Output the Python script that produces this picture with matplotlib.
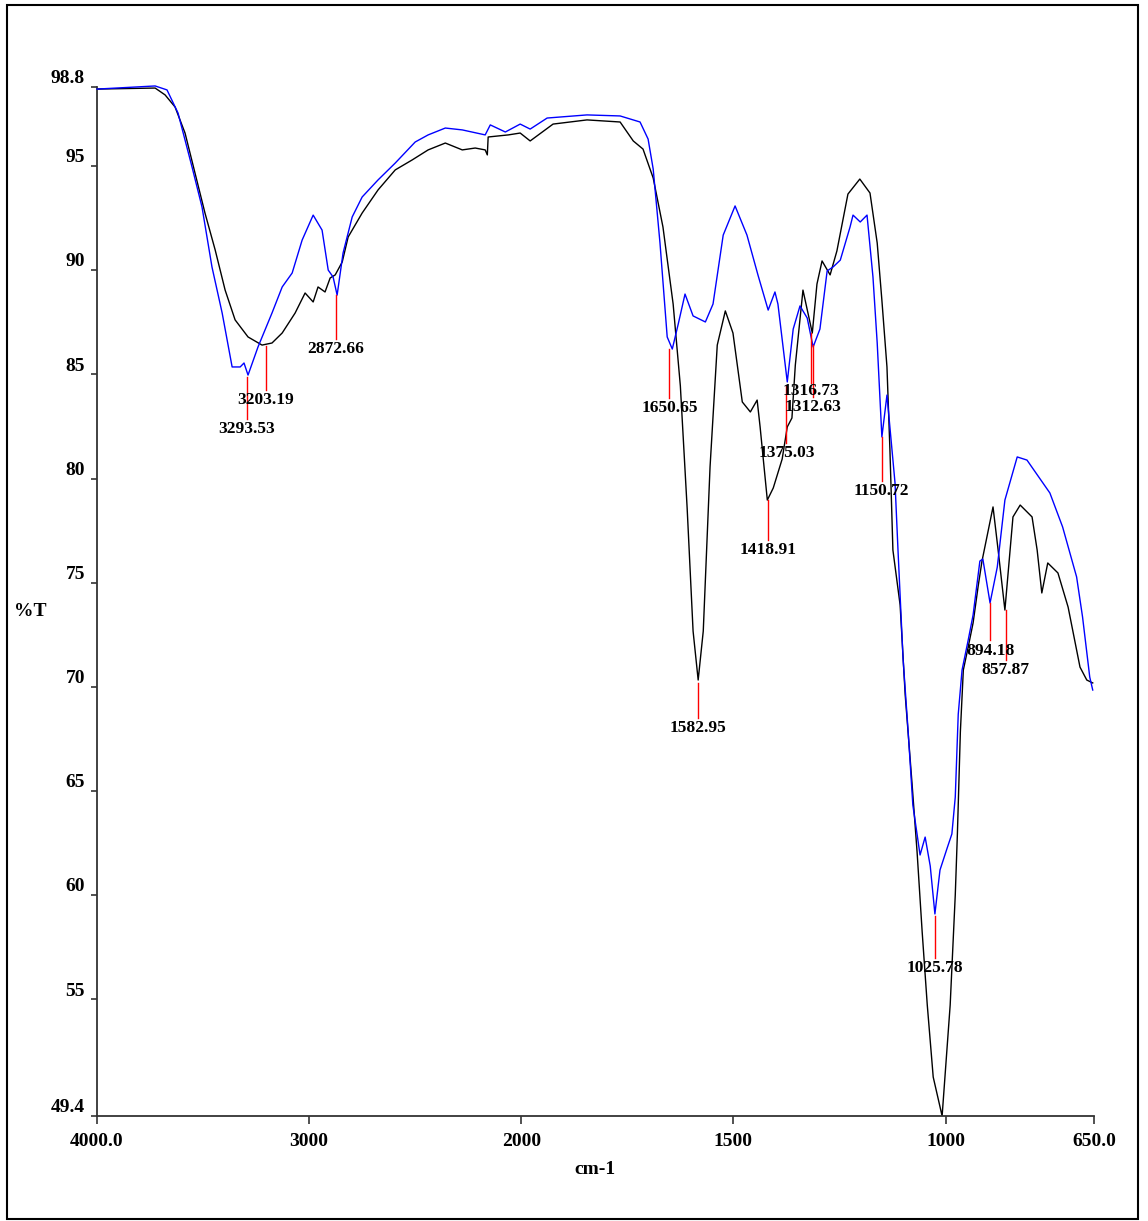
import numpy as np
import matplotlib
matplotlib.use('Agg')
import matplotlib.pyplot as plt
from matplotlib.patches import Rectangle

# spectrum 1 (black), wavenumber cm-1 / %T
black_wn = [4000, 3726, 3679, 3632, 3585, 3538, 3491, 3443, 3396, 3349, 3288, 3222, 3175,
            3127, 3066, 3019, 2981, 2958, 2925, 2901, 2877, 2844, 2816, 2750, 2675, 2594,
            2514, 2439, 2358, 2278, 2217, 2170, 2160, 2156, 2061, 2005, 1979, 1925, 1845,
            1767, 1736, 1713, 1689, 1666, 1642, 1625, 1609, 1595, 1583, 1571, 1555, 1538,
            1519, 1501, 1479, 1460, 1444, 1437, 1420, 1406, 1385, 1373, 1362, 1354, 1336,
            1314, 1303, 1291, 1272, 1256, 1230, 1202, 1178, 1161, 1150, 1138, 1131, 1124,
            1107, 1095, 1079, 1067, 1055, 1043, 1029, 1008, 989, 977, 972, 965, 958, 947,
            935, 923, 914, 888, 876, 860, 841, 824, 796, 784, 773, 759, 735, 711, 683, 667, 653]
black_t = [98.70, 98.75, 98.42, 97.84, 96.59, 94.67, 92.75, 90.98, 89.05, 87.62, 86.80, 86.41, 86.51,
           86.99, 87.95, 88.91, 88.48, 89.20, 88.96, 89.63, 89.78, 90.40, 91.60, 92.75, 93.86, 94.82,
           95.30, 95.78, 96.11, 95.78, 95.87, 95.78, 95.54, 96.40, 96.50, 96.59, 96.21, 97.02, 97.22,
           97.12, 96.21, 95.82, 94.43, 92.08, 88.38, 84.45, 78.59, 72.68, 70.33, 72.68, 80.56, 86.41,
           88.05, 86.99, 83.68, 83.20, 83.77, 82.48, 78.97, 79.55, 80.94, 82.48, 82.91, 85.45, 89.05,
           86.99, 89.34, 90.45, 89.78, 90.93, 93.66, 94.38, 93.71, 91.31, 88.57, 85.36, 81.37, 76.57,
           73.93, 69.61, 65.39, 62.07, 58.23, 54.73, 51.27, 49.40, 54.73, 60.01, 62.94, 67.84, 70.81, 71.87,
           73.07, 74.84, 76.04, 78.64, 76.57, 73.69, 78.16, 78.73, 78.16, 76.57, 74.51, 75.95, 75.47,
           73.83, 70.95, 70.33, 70.19]

# spectrum 2 (blue)
blue_wn = [4000, 3726, 3670, 3618, 3552, 3505, 3458, 3410, 3363, 3325, 3307, 3288, 3241,
           3175, 3127, 3080, 3033, 2981, 2939, 2910, 2887, 2868, 2840, 2797, 2750, 2675,
           2594, 2500, 2439, 2358, 2278, 2170, 2146, 2075, 2005, 1979, 1939, 1845, 1767,
           1720, 1701, 1689, 1673, 1656, 1644, 1630, 1614, 1595, 1566, 1548, 1524, 1496,
           1468, 1442, 1418, 1402, 1395, 1373, 1359, 1343, 1326, 1312, 1296, 1279, 1265,
           1248, 1225, 1218, 1201, 1185, 1171, 1161, 1150, 1138, 1119, 1112, 1100, 1088,
           1077, 1060, 1048, 1036, 1025, 1013, 996, 985, 977, 970, 961, 947, 935, 919, 912,
           895, 878, 860, 831, 808, 754, 724, 691, 677, 660, 653]
blue_t = [98.70, 98.85, 98.66, 97.55, 94.96, 93.04, 90.16, 87.95, 85.36, 85.36, 85.55, 84.97, 86.32,
          87.95, 89.20, 89.87, 91.45, 92.65, 91.93, 90.01, 89.68, 88.81, 90.83, 92.56, 93.52, 94.34,
          95.15, 96.16, 96.50, 96.83, 96.74, 96.50, 96.98, 96.64, 97.02, 96.78, 97.31, 97.46, 97.41,
          97.12, 96.30, 94.86, 91.31, 86.80, 86.22, 87.42, 88.86, 87.81, 87.52, 88.38, 91.69, 93.09,
          91.69, 89.77, 88.09, 88.96, 88.38, 84.64, 87.18, 88.29, 87.71, 86.32, 87.18, 89.97, 90.16,
          90.49, 92.08, 92.65, 92.32, 92.65, 89.68, 86.51, 82.00, 84.01, 79.79, 76.57, 71.34, 67.84,
          64.33, 61.93, 62.79, 61.40, 59.10, 61.21, 62.27, 62.94, 64.71, 68.69, 70.81, 72.20, 73.45, 76.04, 76.14,
          74.03, 75.75, 78.97, 81.04, 80.89, 79.31, 77.68, 75.28, 73.36, 70.47, 69.85]

# peak picks
peak_wn = [3293.53, 3203.19, 2872.66, 1650.65, 1582.95, 1418.91, 1375.03,
           1316.73, 1312.63, 1150.72, 1025.78, 894.18, 857.87]
peak_t = [84.88, 86.37, 88.81, 86.22, 70.19, 78.97, 84.45,
          86.99, 86.41, 82.00, 59.00, 74.03, 73.69]
peak_labels = ['3293.53', '3203.19', '2872.66', '1650.65', '1582.95', '1418.91', '1375.03',
               '1316.73', '1312.63', '1150.72', '1025.78', '894.18', '857.87']

xticks = [4000, 3000, 2000, 1500, 1000, 650]
xticklabels = ['4000.0', '3000', '2000', '1500', '1000', '650.0']
yticks = [98.8, 95, 90, 85, 80, 75, 70, 65, 60, 55, 49.4]
yticklabels = ['98.8', '95', '90', '85', '80', '75', '70', '65', '60', '55', '49.4']

# length of the red marker lines (in %T) and extra gap before each label
drops = [2.0, 2.1, 2.1, 2.35, 1.7, 1.9, 2.75, 2.4, 2.5, 2.1, 2.0, 1.8, 2.4]
gaps = [0.1, 0.1, 0.1, 0.1, 0.1, 0.1, 0.1, 0.0, 0.1, 0.1, 0.1, 0.1, 0.1]


def fwd(w):
    w = np.asarray(w, dtype=float)
    return np.where(w >= 2000, w, 2 * w - 2000)


def inv(x):
    x = np.asarray(x, dtype=float)
    return np.where(x >= 2000, x, (x + 2000) / 2)


font = 'Liberation Serif'
plt.rcParams['font.family'] = [font, 'DejaVu Serif']

fig = plt.figure(figsize=(11.48, 12.21), dpi=100)
ax = fig.add_axes([97 / 1148, 1 - 1116 / 1221, (1094 - 97) / 1148, (1116 - 87) / 1221])

ax.set_xscale('function', functions=(fwd, inv))
ax.set_xlim(4000, 650)
ax.set_ylim(49.4, 98.8)

ax.plot(black_wn, black_t, color='black', lw=1.0, zorder=2)
ax.plot(blue_wn, blue_t, color='#0000FF', lw=1.0, zorder=3, clip_on=False)

for wn, t, lab, d, g in zip(peak_wn, peak_t, peak_labels, drops, gaps):
    ax.plot([wn, wn], [t, t - d], color='#FF0000', lw=1.0, zorder=4)
    ax.text(wn, t - d - g, lab, ha='center', va='top', fontsize=12.5,
            fontweight='bold', color='black', zorder=5)

for s in ['top', 'right']:
    ax.spines[s].set_visible(False)
for s in ['left', 'bottom']:
    ax.spines[s].set_color('#333333')
    ax.spines[s].set_linewidth(1.3)

ax.set_xticks(xticks)
ax.set_xticklabels(xticklabels, fontsize=14, fontweight='bold')
ax.tick_params(axis='x', length=6, width=1.2, color='#333333', pad=6)
ax.minorticks_off()

ax.set_yticks(yticks)
ax.set_yticklabels([])
ax.tick_params(axis='y', length=4, width=1.2, color='#333333')
ytrans = ax.get_yaxis_transform()
for v, lab in zip(yticks, yticklabels):
    ax.text(-0.012, v + 0.4, lab, transform=ytrans, ha='right', va='center',
            fontsize=14, fontweight='bold')

fig.text(30 / 1148, 1 - 612 / 1221, '%T', ha='center', va='center', fontsize=14, fontweight='bold')
fig.text(595 / 1148, 1 - 1170 / 1221, 'cm-1', ha='center', va='center', fontsize=14, fontweight='bold')

fig.patches.append(Rectangle((7 / 1148, 2 / 1221), (1138 - 7) / 1148, (1216 - 2) / 1221,
                             transform=fig.transFigure, fill=False, ec='black', lw=1.5))

fig.savefig('out.png', dpi=100)
